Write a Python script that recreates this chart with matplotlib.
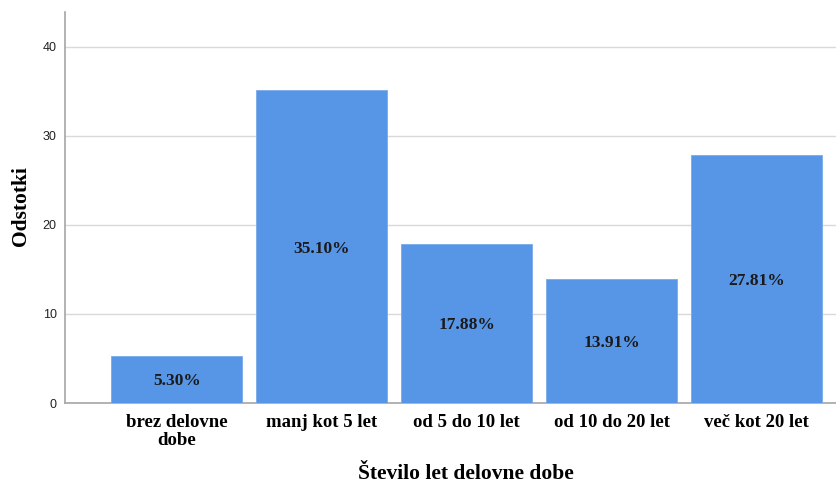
import matplotlib
matplotlib.use("Agg")
import matplotlib.pyplot as plt

categories = ["brez delovne\ndobe", "manj kot 5 let", "od 5 do 10 let", "od 10 do 20 let", "več kot 20 let"]
percentages = [5.30, 35.10, 17.88, 13.91, 27.81]
y_ticks = [0, 10, 20, 30, 40]

serif = ["Liberation Serif", "DejaVu Serif"]
sans = ["Liberation Sans", "DejaVu Sans"]

fig = plt.figure(figsize=(8.37, 4.84), dpi=100)
ax = fig.add_axes([65 / 837, 1 - 403 / 484, 1 - 65 / 837, (403 - 12) / 484])

x = list(range(len(categories)))
bars = ax.bar(x, percentages, width=0.9, color="#5795e6", edgecolor="#7aaaea",
              linewidth=0.6, zorder=3)

for xi, v in zip(x, percentages):
    ax.text(xi, v / 2, f"{v:.2f}%", ha="center", va="center_baseline", fontsize=12.5,
            fontweight="bold", family=serif, color="#1a1a1a", zorder=4)

ax.set_xlim(-0.77, 4.555)
ax.set_ylim(0, 43.9)
ax.set_yticks(y_ticks)
ax.set_yticklabels([str(t) for t in y_ticks], family=sans, fontsize=9, color="#222222")
ax.set_xticks(x)
ax.set_xticklabels(categories, family=serif, fontweight="bold", fontsize=13.5,
                   linespacing=1.05, va="top", multialignment="center")
ax.tick_params(axis="both", length=0)
ax.tick_params(axis="x", pad=8)
ax.tick_params(axis="y", pad=6)

ax.grid(axis="y", color="#d9d9d9", linewidth=1.0, zorder=0)
for side in ["top", "right"]:
    ax.spines[side].set_visible(False)
ax.spines["left"].set_color("#a6a6a6")
ax.spines["bottom"].set_color("#a6a6a6")
ax.spines["left"].set_linewidth(1.2)
ax.spines["bottom"].set_linewidth(1.2)

ax.set_ylabel("Odstotki", family=serif, fontweight="bold", fontsize=15.5)
ax.yaxis.set_label_coords(-(65 - 31) / (837 - 65), (403 - 206) / (403 - 12))
fig.text(466 / 837, 1 - 474 / 484, "Število let delovne dobe", family=serif,
         fontweight="bold", fontsize=15.5, ha="center", va="center")

fig.savefig("out.png", dpi=100)
